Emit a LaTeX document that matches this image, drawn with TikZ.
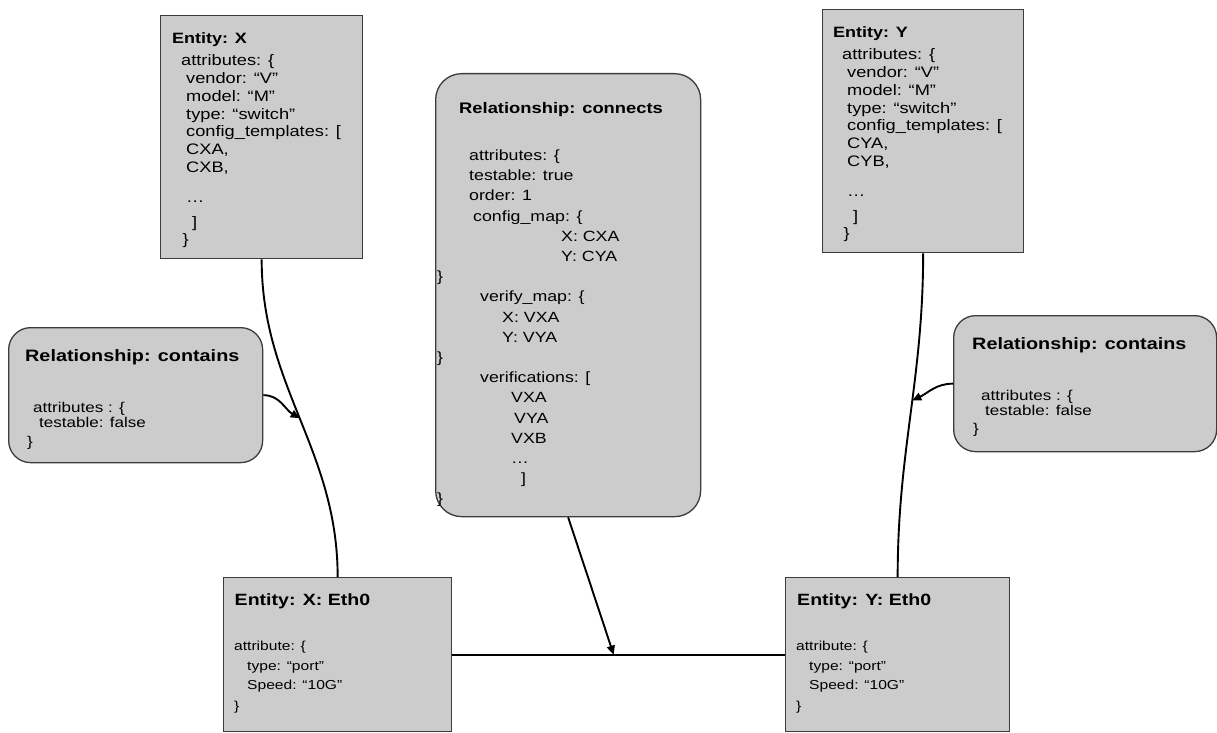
\documentclass[tikz,border=0pt]{standalone}
\usepackage{fontspec}
\setmainfont{Liberation Sans}[FakeStretch=1.2]
\usepackage{tikz}
\usetikzlibrary{
    arrows.meta
}
\usepackage{xcolor}
\definecolor{boxgray}{RGB}{204,204,204}
\definecolor{edgegray}{RGB}{60,60,60}

\begin{document}
\begin{tikzpicture}[
    x=1pt, y=1pt,
    entity/.style={
        rectangle, draw=edgegray, fill=boxgray, line width=1.3pt,
        anchor=north west, inner sep=0pt
    },
    relation/.style={
        entity, rounded corners=22pt
    },
    boxtitle/.style={anchor=base west, inner sep=0pt},
    boxbody/.style={anchor=north west, inner sep=0pt, align=left},
    link/.style={line width=1.9pt, black},
    arrowtip/.style={-{Triangle[length=9pt, width=8pt]}}
]
\useasboundingbox (0,0) rectangle (1217,732);

% Boxes
\node[entity, minimum width=202pt, minimum height=243pt] (xent) at (160,717) {};
\node[entity, minimum width=201pt, minimum height=243pt] (yent) at (822,723) {};
\node[relation, minimum width=265pt, minimum height=443pt, rounded corners=26pt] (conn) at (435,659) {};
\node[relation, minimum width=254pt, minimum height=135pt] (lcont) at (8,405) {};
\node[relation, minimum width=263pt, minimum height=136pt] (rcont) at (953,417) {};
\node[entity, minimum width=228pt, minimum height=154pt] (xeth) at (223,155) {};
\node[entity, minimum width=224pt, minimum height=154pt] (yeth) at (785,155) {};

% Entity X
\node[boxtitle, font=\bfseries\fontsize{15}{18}\selectfont] (xtitle) at (172,688.6) {Entity: X};
\node[boxbody, font=\fontsize{15.2}{17.8}\selectfont] (xbody) at (181,677.6) {%
attributes: \{\\
\hspace*{5pt}vendor: “V”\\
\hspace*{5pt}model: “M”\\
\hspace*{5pt}type: “switch”\\
\hspace*{5pt}config\_templates: [\\
\hspace*{5pt}CXA,\\
\hspace*{5pt}CXB,\\[12pt]
\hspace*{5pt}…\\[7pt]
\hspace*{11pt}]\\
\hspace*{1.5pt}\}};

% Entity Y
\node[boxtitle, font=\bfseries\fontsize{15}{18}\selectfont] (ytitle) at (833,694.6) {Entity: Y};
\node[boxbody, font=\fontsize{15.2}{17.8}\selectfont] (ybody) at (842,683.6) {%
attributes: \{\\
\hspace*{5pt}vendor: “V”\\
\hspace*{5pt}model: “M”\\
\hspace*{5pt}type: “switch”\\
\hspace*{5pt}config\_templates: [\\
\hspace*{5pt}CYA,\\
\hspace*{5pt}CYB,\\[12pt]
\hspace*{5pt}…\\[7pt]
\hspace*{11pt}]\\
\hspace*{1.5pt}\}};

% Relationship: connects
\node[boxtitle, font=\bfseries\fontsize{15.3}{18}\selectfont] (conntitle) at (459,618.5) {Relationship: connects};
\node[boxbody, font=\fontsize{14.8}{20.2}\selectfont] (connbody) at (437,582.5) {%
\hspace*{32pt}attributes: \{\\
\hspace*{32pt}testable: true\\
\hspace*{32pt}order: 1\\
\hspace*{36pt}config\_map: \{\\
\hspace*{124pt}X: CXA\\
\hspace*{124pt}Y: CYA\\
\}\\
\hspace*{43pt}verify\_map: \{\\
\hspace*{65pt}X: VXA\\
\hspace*{65pt}Y: VYA\\
\}\\
\hspace*{43pt}verifications: [\\
\hspace*{74pt}VXA\\
\hspace*{77pt}VYA\\
\hspace*{74pt}VXB\\
\hspace*{74pt}…\\
\hspace*{84pt}]\\
\}};

% Relationship: contains
\node[boxtitle, font=\bfseries\fontsize{16.5}{19}\selectfont] (ltitle) at (25,370.1) {Relationship: contains};
\node[boxbody, font=\fontsize{14.2}{15}\selectfont] (lbody) at (27,330.3) {%
\hspace*{6pt}attributes : \{\\
\hspace*{12pt}testable: false\\[4pt]
\}};
\node[boxtitle, font=\bfseries\fontsize{16.5}{19}\selectfont] (rtitle) at (972,382.1) {Relationship: contains};
\node[boxbody, font=\fontsize{14.2}{15}\selectfont] (rbody) at (973,342.3) {%
\hspace*{8pt}attributes : \{\\
\hspace*{12pt}testable: false\\[3pt]
\}};

% Ports
\node[boxtitle, font=\bfseries\fontsize{16.3}{19}\selectfont] (xethtitle) at (234.5,126.2) {Entity: X: Eth0};
\node[boxbody, font=\fontsize{13}{19.3}\selectfont] (xethbody) at (234,90.8) {%
attribute: \{\\
\hspace*{13pt}type: “port”\\
\hspace*{13pt}Speed: “10G”\\[1.7pt]
\}};
\node[boxtitle, font=\bfseries\fontsize{16.3}{19}\selectfont] (yethtitle) at (797,126.2) {Entity: Y: Eth0};
\node[boxbody, font=\fontsize{13}{19.3}\selectfont] (yethbody) at (796,90.8) {%
attribute: \{\\
\hspace*{13pt}type: “port”\\
\hspace*{13pt}Speed: “10G”\\[1.7pt]
\}};

% Links
\draw[link] (xent.south) to[out=-90, in=90] coordinate[pos=0.5] (xmid) (xeth.north);
\draw[link] (yent.south) to[out=-90, in=90] coordinate[pos=0.45] (ymid) (yeth.north);
\draw[link] (xeth.east) -- coordinate[pos=0.485] (linkmid) (yeth.west);

% Relationship arrows
\draw[link, arrowtip] (lcont.east) to[out=0, in=150] (xmid);
\draw[link, arrowtip] (rcont.west) to[out=180, in=25] (ymid);
\draw[link, arrowtip] (conn.south) -- (linkmid);

\end{tikzpicture}
\end{document}
